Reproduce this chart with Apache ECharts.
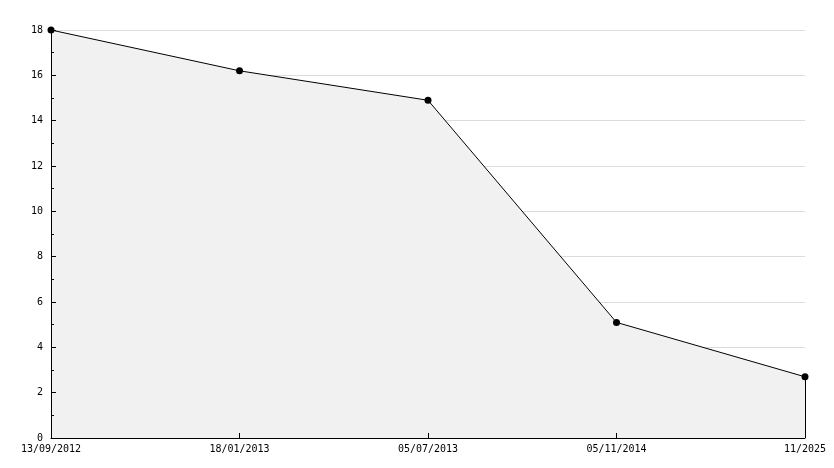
<!DOCTYPE html>
<html><head><meta charset="utf-8">
<script src="https://cdn.jsdelivr.net/npm/echarts@6/dist/echarts.min.js"></script>
<style>html,body{margin:0;padding:0;background:#fff}#c{width:834px;height:468px}</style>
</head><body><div id="c"></div>
<script>
const categories = ['13/09/2012', '18/01/2013', '05/07/2013', '05/11/2014', '11/2025'];
const values = [18, 16.2, 14.9, 5.1, 2.7];
const yMin = 0, yMax = 18, yStep = 2;

const font = 'DejaVu Sans Mono';
const chart = echarts.init(document.getElementById('c'));
const last = categories.length - 1;
chart.setOption({
  animation: false,
  grid: { left: 51, right: 29, top: 30, bottom: 30, containLabel: false },
  xAxis: {
    type: 'category', data: categories, boundaryGap: false, z: 10,
    axisLine: { lineStyle: { color: '#000', width: 1 } },
    axisTick: { inside: true, length: 5, lineStyle: { color: '#000' } },
    axisLabel: { color: '#000', fontFamily: font, fontSize: 10, margin: 6 },
    splitLine: { show: false }
  },
  yAxis: [{
    type: 'value', min: yMin, max: yMax, interval: yStep, z: 0,
    axisLine: { show: false }, axisTick: { show: false }, axisLabel: { show: false },
    splitLine: { show: true, lineStyle: { color: '#dcdcdc', width: 1 } }
  }, {
    type: 'value', min: yMin, max: yMax, interval: yStep, z: 10, position: 'left',
    axisLine: { show: true, lineStyle: { color: '#000', width: 1 } },
    axisTick: { show: true, inside: true, length: 5, lineStyle: { color: '#000' } },
    minorTick: { show: true, splitNumber: 2, length: 3, lineStyle: { color: '#000' } },
    axisLabel: { color: '#000', fontFamily: font, fontSize: 10, margin: 8 },
    splitLine: { show: false }
  }],
  series: [{
    type: 'line', data: values, z: 2, yAxisIndex: 0,
    lineStyle: { color: '#000', width: 1 },
    itemStyle: { color: '#000' },
    symbol: 'circle', symbolSize: 7,
    areaStyle: { color: '#f1f1f1', opacity: 1 },
    markLine: {
      silent: true, symbol: 'none', label: { show: false },
      lineStyle: { color: '#000', width: 1, type: 'solid' },
      data: [[{ coord: [last, yMin] }, { coord: [last, values[last]] }]]
    }
  }]
});
</script></body></html>
